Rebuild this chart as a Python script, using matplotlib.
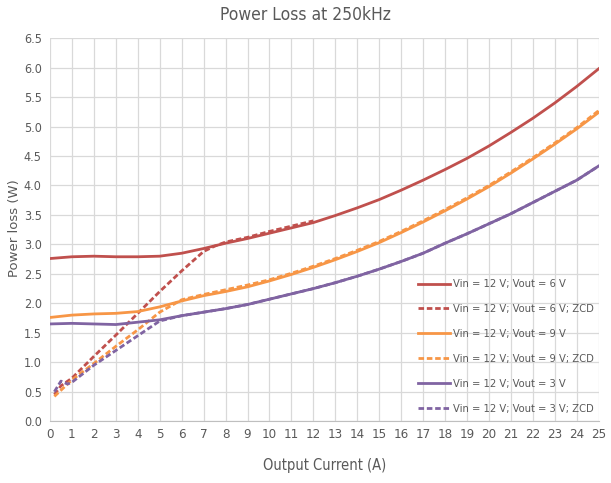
import numpy as np
import matplotlib
matplotlib.use("Agg")
import matplotlib.pyplot as plt

plt.rcParams['font.family'] = ['DejaVu Sans']
plt.rcParams['font.stretch'] = 'condensed'

# Output current (A)
x_full = [0, 1, 2, 3, 4, 5, 6, 7, 8, 9, 10, 11, 12, 13, 14, 15, 16, 17, 18, 19, 20, 21, 22, 23, 24, 25]

vout6 = [2.76, 2.79, 2.80, 2.79, 2.79, 2.80, 2.85, 2.93, 3.02, 3.10, 3.19, 3.28, 3.37, 3.49, 3.62,
         3.76, 3.92, 4.09, 4.27, 4.46, 4.67, 4.90, 5.14, 5.40, 5.68, 5.98]
vout9 = [1.76, 1.80, 1.82, 1.83, 1.86, 1.94, 2.04, 2.13, 2.20, 2.28, 2.38, 2.49, 2.61, 2.74, 2.88,
         3.03, 3.20, 3.38, 3.57, 3.77, 3.98, 4.21, 4.45, 4.70, 4.96, 5.24]
vout3 = [1.65, 1.66, 1.65, 1.64, 1.68, 1.72, 1.79, 1.85, 1.91, 1.98, 2.07, 2.16, 2.25, 2.35, 2.46,
         2.58, 2.71, 2.85, 3.02, 3.18, 3.35, 3.52, 3.71, 3.90, 4.09, 4.33]

x_zcd6 = [0.2, 0.5, 1, 2, 3, 4, 5, 6, 7, 7.5, 8, 9, 10, 11, 12]
vout6_zcd = [0.45, 0.60, 0.73, 1.10, 1.46, 1.83, 2.20, 2.55, 2.88, 2.97, 3.04, 3.12, 3.22, 3.31, 3.40]

x_zcd9 = [0.2, 1, 2, 3, 4, 5, 6, 7, 8, 9, 10, 11, 12, 13, 14, 15, 16, 17, 18, 19, 20, 21, 22, 23, 24, 25]
vout9_zcd = [0.42, 0.70, 0.98, 1.27, 1.55, 1.85, 2.06, 2.15, 2.23, 2.31, 2.40, 2.51, 2.63, 2.76, 2.90,
             3.05, 3.22, 3.40, 3.59, 3.79, 4.00, 4.23, 4.47, 4.72, 4.98, 5.27]

x_zcd3 = [0.2, 0.5, 0.8, 1, 2, 3, 4, 5, 6, 7, 8, 9, 10, 11, 12, 13, 14, 15, 16, 17, 18, 19, 20, 21, 22, 23, 24, 25]
vout3_zcd = [0.50, 0.68, 0.63, 0.66, 0.95, 1.20, 1.45, 1.70, 1.79, 1.85, 1.91, 1.98, 2.07, 2.16, 2.25,
             2.35, 2.46, 2.58, 2.71, 2.85, 3.02, 3.18, 3.35, 3.52, 3.71, 3.90, 4.09, 4.33]

red = '#C0504D'
orange = '#F79646'
purple = '#8064A2'
txt = '#595959'

fig = plt.figure(figsize=(6.11, 4.83), dpi=100)
ax = fig.add_axes([0.0818, 0.128, 0.898, 0.793])

dash = (0, (2.0, 1.0))
lw = 2.0
ax.plot(x_full, vout6, color=red, lw=lw, label='Vin = 12 V; Vout = 6 V')
ax.plot(x_zcd6, vout6_zcd, color=red, lw=lw, ls=dash, label='Vin = 12 V; Vout = 6 V; ZCD')
ax.plot(x_full, vout9, color=orange, lw=lw, label='Vin = 12 V; Vout = 9 V')
ax.plot(x_zcd9, vout9_zcd, color=orange, lw=lw, ls=dash, label='Vin = 12 V; Vout = 9 V; ZCD')
ax.plot(x_full, vout3, color=purple, lw=lw, label='Vin = 12 V; Vout = 3 V')
ax.plot(x_zcd3, vout3_zcd, color=purple, lw=lw, ls=dash, label='Vin = 12 V; Vout = 3 V; ZCD')

ax.set_xlim(0, 25)
ax.set_ylim(0, 6.5)
ax.set_xticks(range(0, 26))
ax.set_yticks(np.arange(0, 6.51, 0.5))
ax.set_yticklabels([f'{v:.1f}' for v in np.arange(0, 6.51, 0.5)])
ax.grid(True, color='#D9D9D9', lw=0.9)
ax.set_axisbelow(True)
for s in ['top', 'right', 'left']:
    ax.spines[s].set_visible(False)
ax.spines['bottom'].set_color('#BFBFBF')
ax.tick_params(axis='x', length=0, colors=txt, labelsize=9.5, pad=5)
ax.tick_params(axis='y', length=0, colors=txt, labelsize=9, pad=6)

fig.suptitle('Power Loss at 250kHz', color=txt, fontsize=12.5, y=0.988, va='top')
ax.set_xlabel('Output Current (A)', color=txt, fontsize=10.5, labelpad=12)
ax.set_ylabel('Power loss (W)', color=txt, fontsize=9.5, fontstretch='normal')
ax.yaxis.set_label_coords(-0.052, 0.504)

leg = ax.legend(loc='upper left', bbox_to_anchor=(0.670, 0.370), frameon=False, fontsize=8,
                handlelength=2.9, handletextpad=0.3, labelspacing=1.34,
                borderaxespad=0, borderpad=0)
for t in leg.get_texts():
    t.set_color(txt)

fig.savefig('out.png', dpi=100)
